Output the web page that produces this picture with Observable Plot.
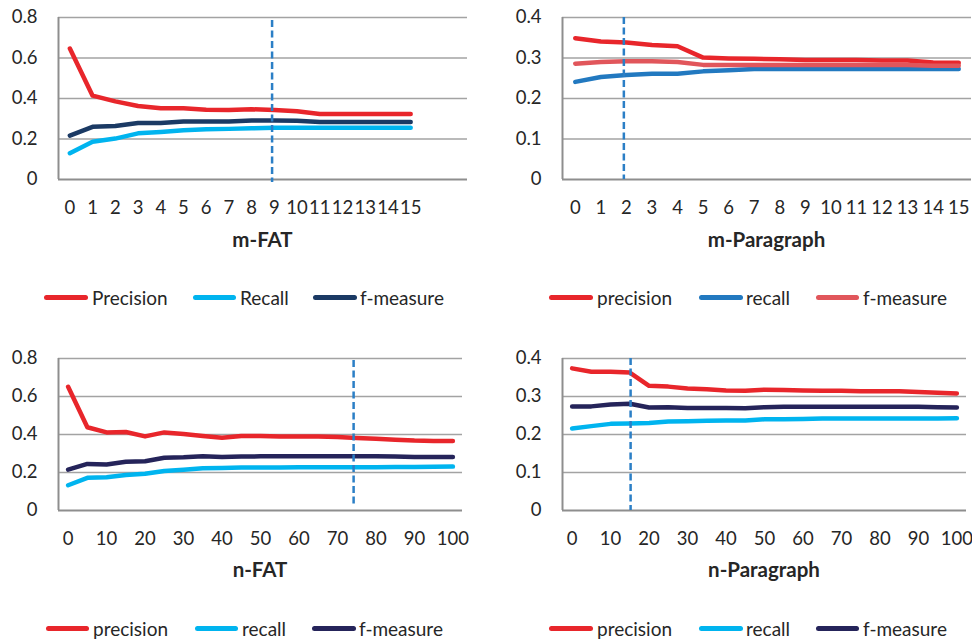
<!DOCTYPE html>
<html><head><meta charset="utf-8">
<script src="https://cdn.jsdelivr.net/npm/d3@7"></script>
<script src="https://cdn.jsdelivr.net/npm/@observablehq/plot@0.6"></script>
<style>
body{margin:0;background:#fff;font-family:Lato,"Open Sans",sans-serif;}
#root{position:relative;width:972px;height:640px;overflow:hidden;background:#fff;}
.panel{position:absolute;}
.title{position:absolute;font-weight:bold;font-size:20.5px;color:#262626;transform:translate(-50%,-50%);white-space:nowrap;line-height:1;}
.lg-line{position:absolute;height:5px;border-radius:2.5px;}
.lg-text{position:absolute;font-size:19px;color:#262626;transform:translateY(-50%);line-height:1;white-space:nowrap;}
</style>
</head><body><div id="root"></div>
<script>
// ---- data ----
const mSteps = [0,1,2,3,4,5,6,7,8,9,10,11,12,13,14,15];
const nSteps = [0,5,10,15,20,25,30,35,40,45,50,55,60,65,70,75,80,85,90,95,100];

const mFatTicksX = [0,1,2,3,4,5,6,7,8,9,10,11,12,13,14,15];
const mParTicksX = [0,1,2,3,4,5,6,7,8,9,10,11,12,13,14,15];
const nTicksX = [0,10,20,30,40,50,60,70,80,90,100];
const fatTicksY = [0,0.2,0.4,0.6,0.8];
const parTicksY = [0,0.1,0.2,0.3,0.4];

const mFatPrecision = [0.647,0.414,0.386,0.363,0.352,0.352,0.345,0.343,0.347,0.343,0.337,0.324,0.324,0.324,0.324,0.324];
const mFatRecall    = [0.130,0.186,0.202,0.228,0.235,0.243,0.248,0.250,0.253,0.255,0.255,0.255,0.255,0.255,0.255,0.255];
const mFatF         = [0.217,0.260,0.264,0.279,0.279,0.287,0.287,0.287,0.291,0.291,0.290,0.284,0.284,0.284,0.284,0.284];

const mParPrecision = [0.349,0.341,0.338,0.332,0.329,0.301,0.299,0.298,0.297,0.295,0.295,0.295,0.294,0.294,0.289,0.288];
const mParRecall    = [0.241,0.253,0.258,0.261,0.261,0.267,0.270,0.273,0.273,0.273,0.273,0.273,0.273,0.273,0.273,0.273];
const mParF         = [0.286,0.290,0.292,0.292,0.290,0.283,0.283,0.283,0.283,0.283,0.283,0.283,0.283,0.283,0.281,0.281];

const nFatPrecision = [0.651,0.438,0.411,0.413,0.390,0.411,0.403,0.392,0.383,0.392,0.392,0.389,0.390,0.390,0.387,0.382,0.378,0.373,0.368,0.366,0.366];
const nFatRecall    = [0.133,0.172,0.175,0.187,0.193,0.208,0.214,0.222,0.224,0.226,0.226,0.226,0.227,0.227,0.228,0.228,0.228,0.229,0.229,0.230,0.231];
const nFatF         = [0.215,0.245,0.242,0.257,0.259,0.278,0.280,0.285,0.282,0.284,0.285,0.285,0.285,0.285,0.285,0.285,0.285,0.284,0.282,0.282,0.282];

const nParPrecision = [0.374,0.365,0.365,0.363,0.328,0.326,0.321,0.319,0.316,0.315,0.318,0.317,0.316,0.315,0.315,0.314,0.314,0.314,0.312,0.310,0.308];
const nParRecall    = [0.216,0.222,0.228,0.229,0.230,0.234,0.235,0.236,0.237,0.237,0.240,0.240,0.241,0.242,0.242,0.242,0.242,0.242,0.242,0.242,0.243];
const nParF         = [0.274,0.274,0.279,0.281,0.271,0.272,0.270,0.270,0.270,0.269,0.272,0.273,0.273,0.273,0.273,0.273,0.273,0.273,0.273,0.272,0.271];

const markers = {mFat: 8.9, mPar: 1.9, nFat: 74.2, nPar: 15.2};

// ---- colours ----
const RED = "#e8262b", LBLUE = "#00b4ef", NAVY1 = "#1b3a64", NAVY2 = "#25245a", BLUE = "#2279c0", PINK = "#e1565b", DASH = "#2b7fc6";

const panels = [
  {left:0, top:0, mt:17, mb:81, ml:58, mr:19, xDomain:[-0.5,17.5], steps:mSteps, xTicks:mFatTicksX, yMax:0.8, yTicks:fatTicksY,
   series:[["Precision",RED,mFatPrecision],["Recall",LBLUE,mFatRecall],["f-measure",NAVY1,mFatF]],
   marker:markers.mFat, inset:[3,-3], title:"m-FAT", titleY:239, legendY:297, legendX:[[44,88,92],[193,236,240],[313,357,360]]},
  {left:486, top:0, mt:17, mb:81, ml:76, mr:1, xDomain:[-0.5,15.5], steps:mSteps, xTicks:mParTicksX, yMax:0.4, yTicks:parTicksY,
   series:[["precision",RED,mParPrecision],["recall",BLUE,mParRecall],["f-measure",PINK,mParF]],
   marker:markers.mPar, inset:[0,0], title:"m-Paragraph", titleY:239, legendY:297, legendX:[[63,107,111],[213,257,260],[330,373,377]]},
  {left:0, top:320, mt:38, mb:70, ml:58, mr:24, xDomain:[-2.5,102.5], steps:nSteps, xTicks:nTicksX, yMax:0.8, yTicks:fatTicksY,
   series:[["precision",RED,nFatPrecision],["recall",LBLUE,nFatRecall],["f-measure",NAVY2,nFatF]],
   marker:markers.nFat, inset:[2,3], title:"n-FAT", titleY:249, legendY:308, legendX:[[46,89,93],[195,238,242],[312,356,359]]},
  {left:486, top:320, mt:38, mb:70, ml:76, mr:6, xDomain:[-2.5,102.5], steps:nSteps, xTicks:nTicksX, yMax:0.4, yTicks:parTicksY,
   series:[["precision",RED,nParPrecision],["recall",LBLUE,nParRecall],["f-measure",NAVY2,nParF]],
   marker:markers.nPar, inset:[0,0], title:"n-Paragraph", titleY:249, legendY:308, legendX:[[63,107,111],[213,257,260],[330,373,377]]}
];

const root = document.getElementById("root");
const W = 486, H = 260;

for (const p of panels) {
  const rows = [];
  for (const [name, color, vals] of p.series) vals.forEach((v, i) => rows.push({name, x: p.steps[i], y: v}));
  const chart = Plot.plot({
    width: W, height: H,
    marginTop: p.mt, marginBottom: p.mb, marginLeft: p.ml, marginRight: p.mr,
    style: {fontSize: "18.5px", fontFamily: "Lato, 'Open Sans', sans-serif", color: "#262626", background: "transparent", overflow: "visible"},
    x: {domain: p.xDomain, label: null},
    y: {domain: [0, p.yMax], label: null},
    color: {domain: p.series.map(s => s[0]), range: p.series.map(s => s[1])},
    marks: [
      Plot.ruleY(p.yTicks.slice(1), {stroke: "#a3a3a3", strokeWidth: 1.4}),
      Plot.ruleY([0], {stroke: "#8e8e8e", strokeWidth: 2}),
      Plot.ruleX([p.xDomain[0]], {stroke: "#8e8e8e", strokeWidth: 2}),
      Plot.line(rows, {x: "x", y: "y", z: "name", stroke: "name", strokeWidth: 4.5, strokeLinecap: "round", strokeLinejoin: "round"}),
      Plot.ruleX([p.marker], {stroke: DASH, strokeWidth: 2.5, strokeDasharray: "7,3.5", insetTop: p.inset[0], insetBottom: p.inset[1]}),
      Plot.axisY({ticks: p.yTicks, tickSize: 0, tickPadding: 21, tickFormat: d => String(d), label: null}),
      Plot.axisX({ticks: p.xTicks, tickSize: 0, tickPadding: 21, tickFormat: d => String(d), label: null})
    ]
  });
  const wrap = document.createElement("div");
  wrap.className = "panel";
  wrap.style.left = p.left + "px";
  wrap.style.top = p.top + "px";
  wrap.style.width = W + "px";
  wrap.style.height = "320px";
  wrap.appendChild(chart);
  chart.style.position = "absolute"; chart.style.left = "0px"; chart.style.top = "0px";

  const t = document.createElement("div");
  t.className = "title";
  t.textContent = p.title;
  t.style.left = ((p.ml + (W - p.mr)) / 2) + "px";
  t.style.top = p.titleY + "px";
  wrap.appendChild(t);

  p.series.forEach(([name, color], i) => {
    const [a, b, tx] = p.legendX[i];
    const l = document.createElement("div");
    l.className = "lg-line";
    l.style.left = a + "px"; l.style.width = (b - a) + "px";
    l.style.top = (p.legendY - 2.5) + "px"; l.style.background = color;
    wrap.appendChild(l);
    const s = document.createElement("div");
    s.className = "lg-text";
    s.textContent = name;
    s.style.left = tx + "px"; s.style.top = p.legendY + "px";
    wrap.appendChild(s);
  });
  root.appendChild(wrap);
}
</script></body></html>
